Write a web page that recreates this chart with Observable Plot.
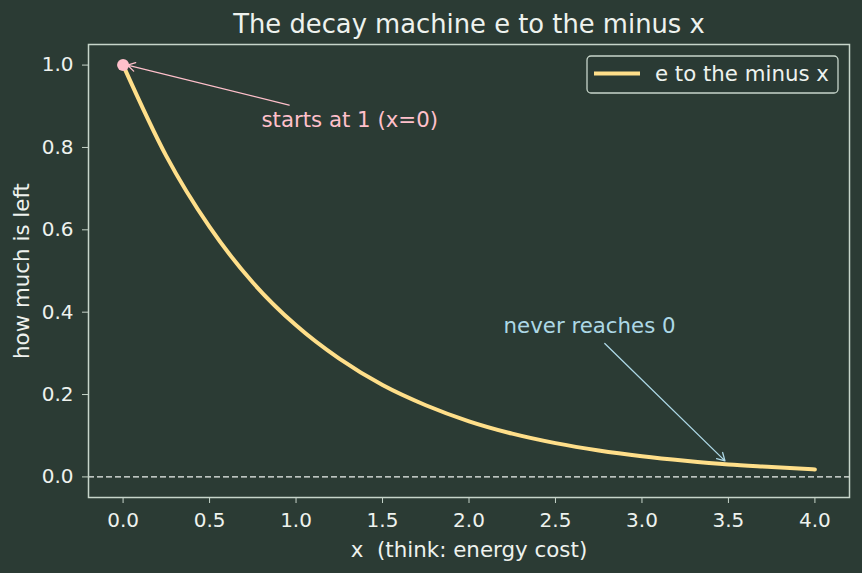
<!DOCTYPE html>
<html><head><meta charset="utf-8">
<script src="https://cdn.jsdelivr.net/npm/d3@7"></script>
<script src="https://cdn.jsdelivr.net/npm/@observablehq/plot@0.6"></script>
<style>html,body{margin:0;padding:0;background:#2b3b34;}</style>
</head><body><div id="chart"></div>
<script>
// Curve values
const xs = [0, 0.25, 0.5, 0.75, 1.0, 1.25, 1.5, 1.75, 2.0, 2.25, 2.5, 2.75, 3.0, 3.25, 3.5, 3.75, 4.0];
const ys = [1.0, 0.779, 0.607, 0.472, 0.368, 0.287, 0.223, 0.174, 0.135, 0.105, 0.082, 0.064, 0.050, 0.039, 0.030, 0.024, 0.018];
const xTicks = [0, 0.5, 1.0, 1.5, 2.0, 2.5, 3.0, 3.5, 4.0];
const yTicks = [0, 0.2, 0.4, 0.6, 0.8, 1.0];
const startPoint = [{x: 0, y: 1}];
const annotations = [
  {text: "starts at 1 (x=0)", x: 0.8, y: 0.85, color: "#ffc0cb"},
  {text: "never reaches 0", x: 2.2, y: 0.35, color: "#add8e6"}
];
const arrows = [
  {x1: 0.96, y1: 0.903, x2: 0.025, y2: 1.0, color: "#ffc0cb"},
  {x1: 2.785, y1: 0.324, x2: 3.48, y2: 0.039, color: "#add8e6"}
];
const titleText = "The decay machine e to the minus x";
const xLabel = "x  (think: energy cost)";
const yLabel = "how much is left";
const legendLabel = "e to the minus x";

const data = xs.map((x, i) => ({x, y: ys[i]}));
const bg = "#2b3b34", fg = "#eef2ee", spine = "#c7d5ca", curve = "#ffdf8a";
const font = "DejaVu Sans";

const chart = Plot.plot({
  width: 862, height: 573,
  marginLeft: 88, marginRight: 13, marginTop: 44, marginBottom: 76,
  style: {background: bg, color: fg, fontFamily: font},
  x: {domain: [-0.2, 4.2]},
  y: {domain: [-0.05, 1.05]},
  marks: [
    Plot.ruleY([0], {stroke: fg, strokeWidth: 1.3, strokeDasharray: "6,3"}),
    Plot.line(data, {x: "x", y: "y", stroke: curve, strokeWidth: 4, curve: "monotone-x"}),
    Plot.dot(startPoint, {x: "x", y: "y", r: 6, fill: "#ffc0cb"}),
    Plot.arrow(arrows, {x1: "x1", y1: "y1", x2: "x2", y2: "y2", stroke: d => d.color, strokeWidth: 1.3, headLength: 10, bend: 0}),
    Plot.text(annotations, {x: "x", y: "y", text: "text", fill: d => d.color, textAnchor: "start", lineAnchor: "bottom", fontSize: 21.3}),
    Plot.frame({stroke: spine, strokeWidth: 1.5}),
    Plot.axisX({ticks: xTicks, tickFormat: d3.format(".1f"), tickSize: 6, tickPadding: 9, fontSize: 20, stroke: spine, fill: fg, label: null}),
    Plot.axisY({ticks: yTicks, tickFormat: d3.format(".1f"), tickSize: 6, tickPadding: 9, fontSize: 20, stroke: spine, fill: fg, label: null}),
    Plot.text([xLabel], {frameAnchor: "bottom", lineAnchor: "bottom", dy: 59, fill: fg, fontSize: 21.4}),
    Plot.text([yLabel], {frameAnchor: "left", textAnchor: "middle", lineAnchor: "middle", dx: -66, rotate: -90, fill: fg, fontSize: 21.4}),
    Plot.text([titleText], {frameAnchor: "top", lineAnchor: "middle", dy: -19.5, fill: fg, fontSize: 25.8})
  ]
});

// legend box (matplotlib-style)
const svg = d3.select(chart);
const lg = svg.append("g").attr("text-anchor", "start");
lg.append("rect").attr("x", 587).attr("y", 56).attr("width", 251).attr("height", 37).attr("rx", 4)
  .attr("fill", bg).attr("fill-opacity", 0.8).attr("stroke", spine).attr("stroke-width", 1.3);
lg.append("line").attr("x1", 594).attr("x2", 640).attr("y1", 73.5).attr("y2", 73.5)
  .attr("stroke", curve).attr("stroke-width", 4);
lg.append("text").attr("x", 655).attr("y", 74).attr("dy", "0.35em").attr("fill", fg)
  .attr("text-anchor", "start").attr("font-size", 21.3).attr("font-family", font).text(legendLabel);

document.getElementById("chart").appendChild(chart);
</script>
</body></html>
